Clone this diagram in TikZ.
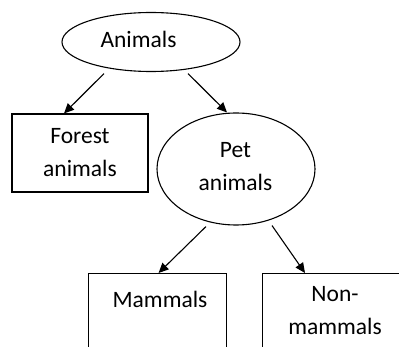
\documentclass[tikz,border=0pt]{standalone}
\usepackage{fontspec}
\setmainfont{Carlito}
\usetikzlibrary{shapes.geometric,arrows.meta}
\begin{document}
\begin{tikzpicture}[x=1pt,y=-1pt,
  lbl/.style={font=\fontsize{23.5}{33}\selectfont, align=center, inner sep=0pt},
  ell/.style={draw, ellipse, line width=1.1pt, inner sep=0pt, lbl},
  boxnode/.style={draw, rectangle, line width=1.1pt, inner sep=0pt, lbl},
  arr/.style={line width=1.1pt, -{Triangle[length=10pt,width=9pt]}}]
\useasboundingbox (0,0) rectangle (399,347);
\clip (0,0) rectangle (399,347);
\node[ell, minimum width=178pt, minimum height=59pt] (ani) at (151,42) {};
\node[lbl, anchor=base] (anit) at (138.5,48) {Animals};
\node[boxnode, minimum width=136pt, minimum height=78pt] (for) at (80,153) {Forest\\animals};
\node[ell, minimum width=158pt, minimum height=112pt] (pet) at (236,169) {};
\node[lbl] (pett) at (235.5,167) {Pet\\animals};
\node[boxnode, anchor=north west, minimum width=138pt, minimum height=120pt] (mam) at (88,273) {};
\node[lbl, anchor=base] (mamt) at (160,308) {Mammals};
\node[boxnode, anchor=north west, minimum width=146pt, minimum height=120pt] (non) at (262,273) {};
\node[lbl] (nont) at (335,311) {Non-\\mammals};
\draw[arr] ([xshift=-47pt,yshift=-1.5pt]ani.south) -- ([xshift=-16pt]for.north);
\draw[arr] ([xshift=37pt,yshift=-1.5pt]ani.south) -- ([xshift=-9pt]pet.north);
\draw[arr] ([xshift=-30pt,yshift=-1pt]pet.south) -- ([xshift=1pt]mam.north);
\draw[arr] ([xshift=36pt]pet.south) -- ([xshift=43pt]non.north west);
\end{tikzpicture}
\end{document}
